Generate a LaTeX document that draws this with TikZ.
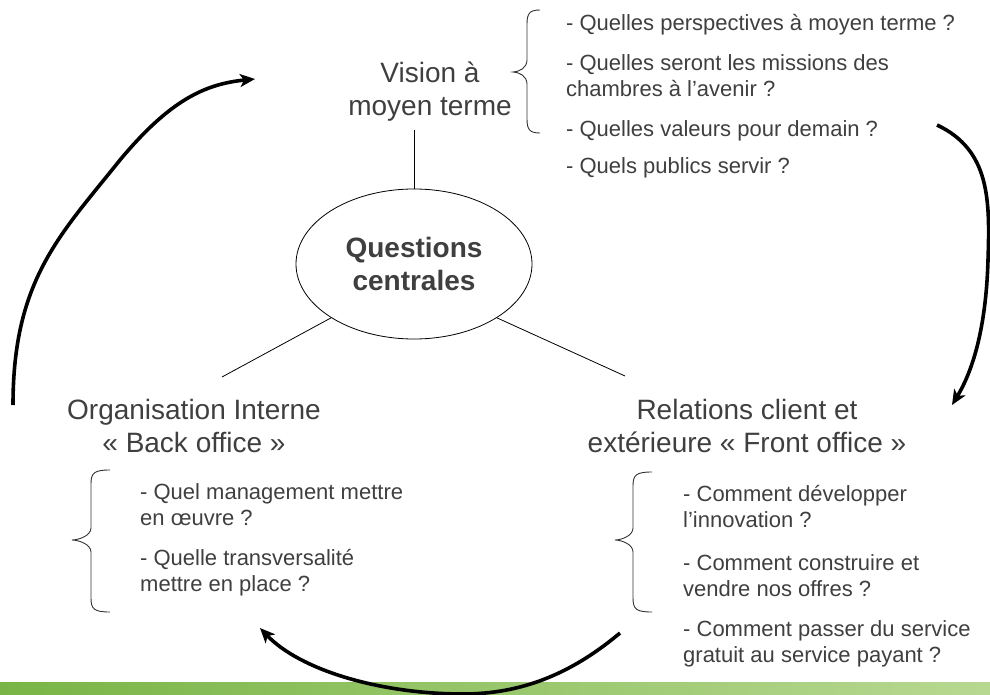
\documentclass[tikz,border=0pt]{standalone}
\usepackage{fontspec}
\setmainfont{Liberation Sans}
\usetikzlibrary{shapes.geometric,arrows.meta}
\definecolor{txt}{HTML}{3F3F3F}
\definecolor{gA}{HTML}{79B546}
\definecolor{gB}{HTML}{A6CD80}
\definecolor{gC}{HTML}{B7D891}
\newcommand\drawbrc[6]{%
  \draw[brc] (#1,#4) .. controls ({#2+3},#4) and (#2,{#4+3}) .. (#2,{#4+14})
    -- (#2,{#5-12}) .. controls (#2,{#5-4}) and ({#3+6},#5) .. (#3,#5)
    .. controls ({#3+6},#5) and (#2,{#5+4}) .. (#2,{#5+12})
    -- (#2,{#6-14}) .. controls (#2,{#6-3}) and ({#2+3},#6) .. (#1,#6);}
\begin{document}
\begin{tikzpicture}[x=1pt,y=-1pt,
  big/.style={font=\fontsize{28}{33}\selectfont, align=center, inner sep=0pt, text=txt},
  qtext/.style={font=\fontsize{22}{26}\selectfont, align=left, inner sep=0pt, anchor=north west, text=txt},
  conn/.style={line width=0.8pt, black},
  cyc/.style={line width=3.6pt, black, -{Stealth[length=15pt,width=13pt,inset=4pt]}},
  brc/.style={line width=0.9pt, black!80}]
\useasboundingbox (0,0) rectangle (990,695);
% green strip
\shade[left color=gA, middle color=gB, right color=gC] (0,682) rectangle (990,695);

% central ellipse
\node[ellipse, draw, line width=0.8pt, minimum width=236pt, minimum height=150pt,
      inner sep=0pt, align=center, text=txt,
      font=\bfseries\fontsize{28}{33}\selectfont] (qc) at (414,264) {Questions\\centrales};

% headings
\node[big] (vis) at (430,92) {Vision à\\moyen terme};
\node[big] (org) at (194,426) {Organisation Interne\\«~Back office~»};
\node[big] (rel) at (747,426) {Relations client et\\extérieure «~Front office~»};

% connectors
\coordinate (vb) at (414,130);
\coordinate (ol) at (222,377);
\coordinate (orr) at (625,376);
\draw[conn] (vb) -- (qc.north);
\draw[conn] (qc.213) -- (ol);
\draw[conn] (qc.-33) -- (orr);

% question lists
\node[qtext] (qv) at (566,14) {- Quelles perspectives à moyen terme ?\\[14pt]- Quelles seront les missions des\\chambres à l’avenir ?\\[14pt]- Quelles valeurs pour demain ?\\[11pt]- Quels publics servir ?};
\node[qtext] (qo) at (140,483) {- Quel management mettre\\en œuvre ?\\[14pt]- Quelle transversalité\\mettre en place ?};
\node[qtext] (qr) at (683,485) {- Comment développer\\l’innovation ?\\[17pt]- Comment construire et\\vendre nos offres ?\\[14pt]- Comment passer du service\\gratuit au service payant ?};

% braces
\drawbrc{540}{527}{513}{10}{72}{133}
\drawbrc{110}{91}{72}{470}{540}{612}
\drawbrc{652}{633}{615}{472}{540}{612}

% cycle arrows
\coordinate (a1s) at (13,405);
\coordinate (a1e) at (255,79);
\coordinate (a2s) at (937,125);
\coordinate (a2e) at (952,405);
\coordinate (a3s) at (620,633);
\coordinate (a3e) at (260,628);
\draw[cyc] (a1s) .. controls (13,280) and (60,235) .. (120,160) .. controls (170,100) and (205,84) .. (a1e);
\draw[cyc] (a2s) .. controls (990,150) and (990,200) .. (988,260) .. controls (986,330) and (972,372) .. (a2e);
\draw[cyc] (a3s) .. controls (570,675) and (520,694) .. (463,694) .. controls (380,694) and (300,670) .. (a3e);
\end{tikzpicture}
\end{document}
